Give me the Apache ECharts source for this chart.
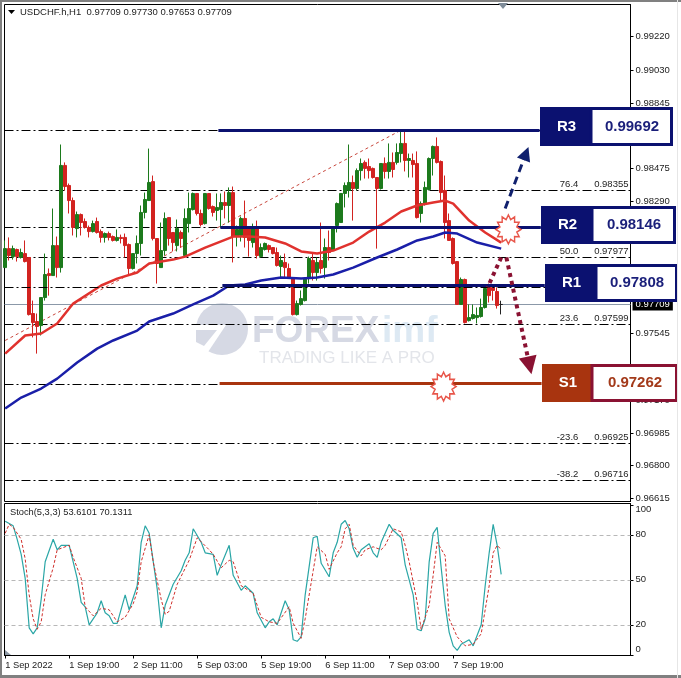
<!DOCTYPE html>
<html><head><meta charset="utf-8">
<style>html,body{margin:0;padding:0;background:#fff}#c{width:681px;height:678px}</style>
<script src="https://cdn.jsdelivr.net/npm/echarts@6/dist/echarts.min.js"></script>
</head><body><div id="c"></div>
<script>
const opens=[.97917,.98024,.97979,.98019,.97974,.97996,.97974,.97658,.97613,.97590,.97748,.97883,.97872,.98041,.97917,.98493,.98380,.98295,.98137,.98216,.98177,.98143,.98120,.98177,.98120,.98087,.98109,.98092,.98070,.98087,.98087,.98047,.97912,.97996,.98053,.98228,.98295,.98402,.98081,.97917,.98013,.98199,.98115,.98041,.98115,.97985,.98165,.98244,.98335,.98222,.98165,.98335,.98261,.98239,.98244,.98284,.98267,.98340,.98092,.98098,.98194,.98137,.98058,.98137,.97979,.98019,.98041,.98030,.98002,.97923,.97946,.97912,.97855,.97652,.97709,.97731,.97855,.97957,.97889,.97957,.97917,.98030,.98013,.98154,.98171,.98335,.98352,.98397,.98363,.98464,.98510,.98487,.98476,.98425,.98363,.98504,.98459,.98510,.98510,.98560,.98617,.98521,.98521,.98504,.98222,.98278,.98357,.98532,.98600,.98515,.98352,.98182,.98081,.97951,.97709,.97850,.97618,.97630,.97635,.97641,.97692,.97810,.97805,.97782,.97709];
const closes=[.98024,.97985,.98024,.97979,.98002,.97951,.97652,.97607,.97585,.97748,.97878,.97872,.98041,.97917,.98493,.98374,.98295,.98143,.98216,.98171,.98143,.98120,.98165,.98115,.98087,.98109,.98087,.98070,.98087,.98081,.98041,.97912,.97996,.98053,.98228,.98301,.98397,.98081,.97940,.98013,.98194,.98081,.98058,.98137,.98081,.98194,.98250,.98335,.98222,.98160,.98335,.98250,.98228,.98256,.98284,.98267,.98340,.98092,.98132,.98194,.98087,.98070,.98137,.97985,.98030,.98053,.98019,.97996,.97929,.97957,.97917,.97861,.97652,.97714,.97742,.97855,.97968,.97889,.97946,.97912,.98030,.98002,.98143,.98278,.98335,.98380,.98397,.98363,.98464,.98504,.98476,.98464,.98425,.98363,.98504,.98459,.98510,.98470,.98566,.98617,.98521,.98532,.98498,.98199,.98278,.98369,.98532,.98600,.98510,.98340,.98171,.98070,.97940,.97709,.97850,.97607,.97635,.97652,.97647,.97692,.97799,.97759,.97788,.97703,.97709];
const lows=[.97917,.97957,.97962,.97951,.97968,.97946,.97647,.97523,.97432,.97534,.97731,.97759,.97872,.97861,.97889,.98352,.98222,.98098,.98087,.98098,.98137,.98087,.98115,.98109,.98058,.98058,.98070,.98064,.98064,.98053,.97974,.97872,.97906,.97940,.97985,.98194,.98295,.98070,.97827,.97917,.97985,.98041,.98008,.98008,.98030,.97974,.98115,.98239,.98211,.98149,.98160,.98244,.98205,.98182,.98143,.98194,.98171,.97946,.98036,.98064,.98030,.97979,.98030,.97968,.97974,.98013,.98002,.97991,.97923,.97855,.97855,.97855,.97647,.97647,.97703,.97726,.97827,.97844,.97844,.97883,.97855,.97957,.98013,.98115,.98171,.98256,.98312,.98182,.98352,.98408,.98419,.98419,.98419,.98024,.98357,.98419,.98419,.98425,.98498,.98510,.98459,.98425,.98425,.98194,.98171,.98267,.98352,.98436,.98504,.98295,.98081,.98070,.97934,.97709,.97709,.97602,.97613,.97624,.97602,.97635,.97686,.97720,.97731,.97686,.97653];
const highs=[.98070,.98087,.98041,.98024,.98024,.98070,.97974,.97731,.97658,.97748,.97996,.97912,.98250,.98092,.98611,.98510,.98391,.98312,.98233,.98222,.98194,.98154,.98182,.98199,.98132,.98115,.98120,.98098,.98132,.98103,.98109,.98053,.97996,.98098,.98267,.98340,.98588,.98436,.98081,.98171,.98228,.98199,.98115,.98188,.98126,.98250,.98340,.98340,.98335,.98244,.98335,.98335,.98267,.98335,.98335,.98346,.98369,.98374,.98154,.98205,.98295,.98137,.98165,.98182,.98053,.98058,.98047,.98030,.98030,.97985,.97996,.97940,.97855,.97731,.97788,.97861,.97979,.97996,.97974,.98171,.98081,.98126,.98143,.98284,.98335,.98397,.98611,.98436,.98476,.98532,.98521,.98532,.98481,.98425,.98504,.98538,.98617,.98566,.98617,.98696,.98690,.98560,.98560,.98572,.98290,.98402,.98538,.98605,.98651,.98521,.98436,.98222,.98087,.97951,.97861,.97855,.97709,.97709,.97692,.97742,.97816,.97827,.97822,.97805,.97730];

const redBars=[0,5,9,13,17,24,28,33,36,42,45,50,57,61,65,70,74,78,82,87,91,95,99,103,107,110,112,116,120,124];
const redMA=[.97432,.97534,.97545,.97602,.97714,.97816,.97855,.97889,.97940,.97962,.97979,.98030,.98092,.98092,.98087,.98053,.98008,.97996,.98013,.98058,.98120,.98171,.98233,.98267,.98284,.98295,.98278,.98182,.98115,.98058];
const blueBars=[0,4,9,13,18,23,27,33,36,42,47,52,56,60,64,69,74,78,82,87,93,98,103,107,110,113,118,124];
const blueMA=[.97122,.97184,.97235,.97291,.97382,.97460,.97506,.97562,.97613,.97658,.97709,.97759,.97816,.97822,.97844,.97861,.97855,.97861,.97878,.97917,.97974,.98019,.98070,.98092,.98115,.98109,.98058,.98024];

const stochBars=[0,2,3,4,5,6,7,8,9,10,12,13,14,16,18,19,20,21,23,24,25,26,27,28,30,31,33,34,35,36,38,39,40,42,44,45,46,47,49,50,52,53,54,56,57,59,60,62,63,65,66,67,68,70,71,72,73,74,75,77,78,79,81,82,83,84,85,86,87,88,89,91,92,93,94,96,97,99,100,102,103,104,105,106,107,108,109,110,111,112,113,114,116,117,119,120,121,122,123,124];
const stochMain=[89,86,77,67,51,18,14,18,37,62,77,70,73,73,51,35,32,20,28,36,28,26,21,21,40,30,46,75,86,81,44,18,33,47,56,63,68,84,75,68,67,53,60,73,53,43,46,41,28,18,22,24,20,36,30,10,9,12,40,78,79,61,52,68,75,87,89.5,84,71,65,70,74,68,65,75,87,83,78,60,40,17,16,24,62,81,85,58,33,15,6,3,7,10,6,20,46,68,87,73,53.6];
const signalBars=[0,1,2,4,5,6,7,8,9,10,12,13,16,17,19,20,22,24,26,28,30,32,33,34,36,37,39,40,41,43,46,48,51,52,54,56,57,59,62,64,66,68,71,72,74,75,77,78,80,81,83,84,85,86,87,89,90,92,94,95,97,99,100,101,103,104,106,107,108,110,111,113,115,117,119,121,122,123,124];
const stochSignal=[81,87,85,77,64,40,24,17,22,40,58,70,73,65,51,32,26,31,30,22,25,34,42,62,80,62,37,27,29,47,63,78,70,67,58,63,62,46,41,25,22,21,32,21,11,24,56,72,67,57,68,72,84,87,73,66,70,72,70,73,84,82,73,62,35,17,33,53,75,66,24,12,6,7,14,46,68,73,70.1];

const timeTicks=[0,16,32,48,64,80,96,112];
const timeLabels=['1 Sep 2022','1 Sep 19:00','2 Sep 11:00','5 Sep 03:00','5 Sep 19:00','6 Sep 11:00','7 Sep 03:00','7 Sep 19:00'];
const priceTicks=[.99220,.99030,.98845,.98660,.98475,.98290,.98105,.97920,.97730,.97545,.97355,.97170,.96985,.96800,.96615];
const stochTicks=[0,20,50,80,100];
const stochLevels=[20,50,80];

const fibRatios=['100.0','76.4','61.8','50.0','38.2','23.6','0.0','-23.6','-38.2'];
const fibPrices=[.98692,.98355,.98146,.97977,.97808,.97599,.97262,.96925,.96716];
const fibAnchorBars=[0,99];
const fibAnchorPrices=[.97506,.98692];
const lastPrice=.97709;

const levelNames=['R3','R2','R1','S1'];
const levelLabels=['0.99692','0.98146','0.97808','0.97262'];
const levelPrices=[.98690,.98143,.97816,.97263];
const levelStartBars=[53.3,53.8,54.3,53.6];
const levelEndBars=[133.6,133.9,134.9,134.1];
const starBars=[125.8,109.6];
const starPrices=[.98132,.97246];

const F='"Liberation Sans",Arial,sans-serif';
const navy='#0b1170',rust='#a8340f',maroon='#8a1232';
const green='#1c7a1c',red='#d22320';

const boxes=[
 {x:540,y:107,w:133,h:39,split:51,fill:navy,edge:navy,ink:'#1a1f7a'},
 {x:541,y:206,w:135,h:38,split:51,fill:navy,edge:navy,ink:'#1a1f7a'},
 {x:545,y:264,w:133,h:38,split:51,fill:navy,edge:navy,ink:'#1a1f7a'},
 {x:542,y:364,w:136,h:38,split:50,fill:rust,edge:maroon,ink:'#a33a1a'}
];
const g=[];
boxes.forEach((b,i)=>{
 g.push({type:'rect',z:20,shape:{x:b.x,y:b.y,width:b.split+2,height:b.h},style:{fill:b.fill}});
 g.push({type:'rect',z:20,shape:{x:b.x+b.split,y:b.y+1.5,width:b.w-b.split-1.5,height:b.h-3},style:{fill:'#fff',stroke:b.edge,lineWidth:3}});
 g.push({type:'text',z:21,style:{x:b.x+b.split/2+1,y:b.y+b.h/2,text:levelNames[i],fill:'#fff',font:'bold 15px '+F,align:'center',verticalAlign:'middle'}});
 g.push({type:'text',z:21,style:{x:b.x+b.split+(b.w-b.split)/2,y:b.y+b.h/2,text:levelLabels[i],fill:b.ink,font:'bold 15px '+F,align:'center',verticalAlign:'middle'}});
});
// window frame
g.push({type:'rect',z:30,shape:{x:0,y:0,width:681,height:2},style:{fill:'#808080'}});
g.push({type:'rect',z:30,shape:{x:0,y:0,width:2,height:678},style:{fill:'#808080'}});
g.push({type:'rect',z:30,shape:{x:0,y:675,width:681,height:3},style:{fill:'#808080'}});
g.push({type:'rect',z:30,shape:{x:677,y:0,width:1,height:678},style:{fill:'#e6e6e6'}});
// header texts and markers
g.push({type:'polygon',z:6,shape:{points:[[8,10],[15,10],[11.5,14]]},style:{fill:'#000'}});
g.push({type:'text',z:6,style:{x:20,y:12,text:'USDCHF.h,H1  0.97709 0.97730 0.97653 0.97709',fill:'#222',font:'9.5px '+F,verticalAlign:'middle'}});
g.push({type:'polygon',z:6,shape:{points:[[498,3],[508,3],[503,9]]},style:{fill:'#7f8c99'}});
g.push({type:'text',z:6,style:{x:10,y:512,text:'Stoch(5,3,3) 53.6101 70.1311',fill:'#222',font:'9.3px '+F,verticalAlign:'middle'}});
g.push({type:'polygon',z:6,shape:{points:[[5,650],[5,655],[11,655]]},style:{fill:'#8d99a6'}});
// watermark
g.push({type:'circle',z:1,shape:{cx:222,cy:329,r:26},style:{fill:'#d6d9e4'}});
g.push({type:'polygon',z:1,shape:{points:[[193,325],[226,325],[208,352],[190,352]]},style:{fill:'#fff'}});
g.push({type:'polygon',z:1,shape:{points:[[196,330],[217,330],[204,346],[196,342]]},style:{fill:'#d6d9e4'}});
g.push({type:'text',z:1,style:{x:252,y:332,text:'FOREX',fill:'#d6d9e4',font:'bold 37px '+F,verticalAlign:'middle'}});
g.push({type:'text',z:1,style:{x:382,y:332,text:'imf',fill:'#dde9f3',font:'bold 37px '+F,verticalAlign:'middle'}});
g.push({type:'text',z:1,style:{x:259,y:358,text:'TRADING LIKE A PRO',fill:'#e3e5ea',font:'17px '+F,verticalAlign:'middle'}});

const pts=(xs,ys)=>xs.map((x,i)=>[x,ys[i]]);
const thick=levelNames.map((n,i)=>({
 type:'line',xAxisIndex:0,yAxisIndex:0,data:[[levelStartBars[i],levelPrices[i]],[levelEndBars[i],levelPrices[i]]],
 symbol:'none',z:4,silent:true,clip:false,lineStyle:{color:n==='S1'?rust:navy,width:3}
}));
const seg=(x0,y0,x1,y1,sym,size)=>[{coord:[x0,y0],symbol:'none'},{coord:[x1,y1],symbol:sym,symbolSize:size}];
const fibLine=(p,i)=>({yAxis:p,label:{show:true,position:'insideEndTop',distance:[2,1],formatter:fibRatios[i]+'      '+p.toFixed(5),fontFamily:F,fontSize:9.5,color:'#222'}});
const fibStyle={color:'#000',width:1,type:[9,3,2,3]};

const option={
 animation:false,backgroundColor:'#fff',
 grid:[
  {left:4.5,top:4.5,width:626,height:497,show:true,backgroundColor:'#fff',borderColor:'#000',borderWidth:1},
  {left:4.5,top:503.5,width:626,height:152,show:true,backgroundColor:'#fff',borderColor:'#000',borderWidth:1}
 ],
 xAxis:[
  {type:'value',gridIndex:0,min:-0.17,max:156.33,splitLine:{show:false},axisTick:{show:false},axisLabel:{show:false},axisLine:{show:false}},
  {type:'value',gridIndex:1,min:-0.17,max:156.33,splitLine:{show:false},axisLine:{show:true,onZero:false,lineStyle:{color:'#000'}},
   axisTick:{show:true,length:3,customValues:timeTicks,lineStyle:{color:'#000'}},
   axisLabel:{customValues:timeTicks,align:'left',margin:5,fontFamily:F,fontSize:9.3,color:'#222',formatter:v=>timeLabels[timeTicks.indexOf(v)]||''}}
 ],
 yAxis:[
  {type:'value',gridIndex:0,position:'right',min:.965981,max:.994004,scale:true,splitLine:{show:false},axisLine:{show:true,onZero:false,lineStyle:{color:'#000'}},
   axisTick:{show:true,length:3,customValues:priceTicks,lineStyle:{color:'#000'}},
   axisLabel:{customValues:priceTicks,margin:5,fontFamily:F,fontSize:9.5,color:'#222',formatter:v=>v.toFixed(5)}},
  {type:'value',gridIndex:1,position:'right',min:-.47,max:100.87,splitLine:{show:false},axisLine:{show:true,onZero:false,lineStyle:{color:'#000'}},
   axisTick:{show:true,length:3,customValues:stochTicks,lineStyle:{color:'#000'}},
   axisLabel:{customValues:stochTicks,margin:5,fontFamily:F,fontSize:9.5,color:'#222',verticalAlignMinLabel:'bottom',verticalAlignMaxLabel:'top'}}
 ],
 graphic:{elements:g},
 series:[
  {type:'line',xAxisIndex:0,yAxisIndex:0,data:[],z:2,silent:true,markLine:{z:2,silent:true,symbol:'none',animation:false,precision:5,
    lineStyle:fibStyle,
    data:fibPrices.map(fibLine).filter(d=>d.yAxis!==.97808)}},
  {type:'line',xAxisIndex:0,yAxisIndex:0,data:[],z:5,silent:true,markLine:{z:5,silent:true,symbol:'none',animation:false,precision:5,
    lineStyle:fibStyle,
    data:fibPrices.map(fibLine).filter(d=>d.yAxis===.97808)}},
  {type:'line',xAxisIndex:0,yAxisIndex:0,data:[],z:2,silent:true,markLine:{z:2,silent:true,symbol:'none',animation:false,precision:5,
    lineStyle:{color:'#8b98a8',width:1,type:'solid'},
    data:[{yAxis:lastPrice,label:{show:true,position:'end',distance:2,formatter:lastPrice.toFixed(5),fontFamily:F,fontSize:9.5,color:'#fff',backgroundColor:'#000',padding:[1,3]}}]}},
  {type:'line',xAxisIndex:0,yAxisIndex:0,data:pts(fibAnchorBars,fibAnchorPrices),symbol:'none',z:2,silent:true,lineStyle:{color:'#c8463c',width:1,type:[3,3]}},
  {type:'candlestick',xAxisIndex:0,yAxisIndex:0,z:3,barWidth:3,silent:true,
    data:opens.map((o,i)=>[i,o,closes[i],lows[i],highs[i]]),encode:{x:0,y:[1,2,3,4]},
    itemStyle:{color:green,color0:red,borderColor:green,borderColor0:red,borderColorDoji:'#222',borderWidth:1}},
  {type:'line',xAxisIndex:0,yAxisIndex:0,data:pts(redBars,redMA),symbol:'none',z:4,silent:true,lineStyle:{color:'#e0322e',width:2.5}},
  {type:'line',xAxisIndex:0,yAxisIndex:0,data:pts(blueBars,blueMA),symbol:'none',z:4,silent:true,lineStyle:{color:'#1a1fa8',width:2.5}},
  ...thick,
  {type:'line',xAxisIndex:0,yAxisIndex:0,data:[],z:6,silent:true,
    markLine:{z:6,silent:true,animation:false,precision:5,label:{show:false},
     data:[
      Object.assign(seg(125,.98250,130.2,.98560,'triangle',14),{lineStyle:{color:'#10206e',width:3,type:[8,5]}}),
      Object.assign(seg(124,.97974,120.6,.97805,'none',1),{lineStyle:{color:maroon,width:4,type:[4,4]}}),
      Object.assign(seg(125.3,.97974,131.1,.97365,'triangle',18),{lineStyle:{color:maroon,width:4,type:[4,4]}})
     ].map(a=>{const s=a.lineStyle;a[0].lineStyle=s;a[1].lineStyle=s;delete a.lineStyle;return a;})},
    markPoint:{z:7,silent:true,animation:false,symbol:'path://M100 50L83.8 59L93 75L74.7 74.7L75 93L59 83.8L50 100L41 83.8L25 93L25.3 74.7L7 75L16.2 59L0 50L16.2 41L7 25L25.3 25.3L25 7L41 16.2L50 0L59 16.2L75 7L74.7 25.3L93 25L83.8 41Z',
     symbolSize:[25,29],itemStyle:{color:'#fff',borderColor:'#e8564a',borderWidth:1.5},label:{show:false},
     data:starBars.map((x,i)=>({coord:[x,starPrices[i]]}))}},
  {type:'line',xAxisIndex:1,yAxisIndex:1,data:[],z:2,silent:true,markLine:{z:2,silent:true,symbol:'none',animation:false,label:{show:false},lineStyle:{color:'#b8b8b8',width:1,type:[4,3]},data:stochLevels.map(v=>({yAxis:v}))}},
  {type:'line',xAxisIndex:1,yAxisIndex:1,data:pts(stochBars,stochMain),symbol:'none',z:3,silent:true,lineStyle:{color:'#2aa6a6',width:1.2}},
  {type:'line',xAxisIndex:1,yAxisIndex:1,data:pts(signalBars,stochSignal),symbol:'none',z:4,silent:true,lineStyle:{color:'#d0302c',width:1,type:[3,2]}}
 ]
};
const chart=echarts.init(document.getElementById('c'),null,{renderer:'canvas'});
chart.setOption(option);
</script></body></html>
